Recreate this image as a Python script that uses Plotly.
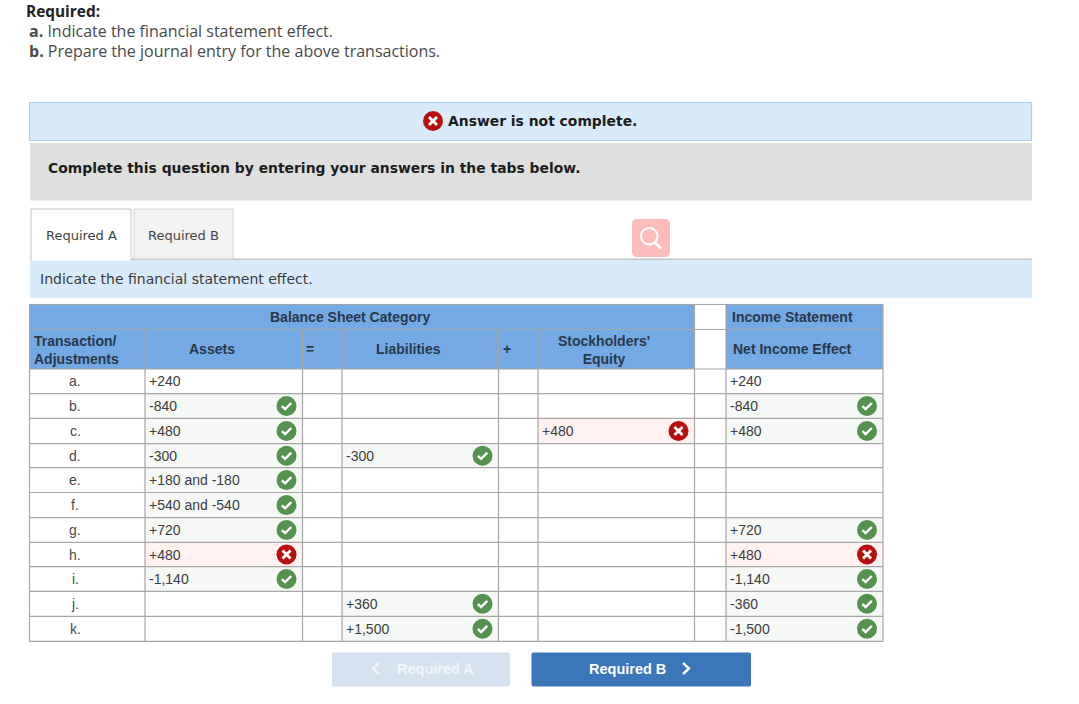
"""Gradebook style answer table, rebuilt on a pixel sized Plotly canvas."""

import plotly.graph_objects as go

# ---------------------------------------------------------------------------
# Data
# ---------------------------------------------------------------------------
transactions = ["a.", "b.", "c.", "d.", "e.", "f.", "g.", "h.", "i.", "j.", "k."]
assets = ["+240", "-840", "+480", "-300", "+180 and -180", "+540 and -540",
          "+720", "+480", "-1,140", "", ""]
assets_marks = ["", "ok", "ok", "ok", "ok", "ok", "ok", "bad", "ok", "", ""]
liabilities = ["", "", "", "-300", "", "", "", "", "", "+360", "+1,500"]
liabilities_marks = ["", "", "", "ok", "", "", "", "", "", "ok", "ok"]
equity = ["", "", "+480", "", "", "", "", "", "", "", ""]
equity_marks = ["", "", "bad", "", "", "", "", "", "", "", ""]
net_income = ["+240", "-840", "+480", "", "", "", "+720", "+480", "-1,140", "-360", "-1,500"]
net_income_marks = ["", "ok", "ok", "", "", "", "ok", "bad", "ok", "ok", "ok"]

# ---------------------------------------------------------------------------
# Layout constants (pixels)
# ---------------------------------------------------------------------------
COL_X = [29.5, 145, 302.5, 342, 498.5, 538, 694.5, 726, 883]
ROW_Y = [369, 393.7, 418.3, 443.7, 467.7, 492.5, 517.7, 542.3, 566.7, 591.3, 616.3, 641.3]
HEAD_Y = [304.5, 329.5, 369]

BLUE = "#74a9e4"
PALE_BLUE = "#d9ebfa"
GRID = "#a6a6a6"
HEAD_INK = "#27384a"
CELL_INK = "#3c3c3c"
GREEN = "#55924f"
RED = "#b70f0f"
TINT = {"ok": "#f5f8f5", "bad": "#fff2f1"}

SANS = "Liberation Sans"
BODY = "Open Sans"
WIDE = "DejaVu Sans"

shapes = []
notes = []


def rect(x0, y0, x1, y1, fill, line=None, width=1):
    shapes.append(dict(
        type="rect", x0=x0, y0=y0, x1=x1, y1=y1, fillcolor=fill,
        line=dict(color=line or fill, width=width if line else 0), layer="below",
    ))


def round_rect(x0, y0, x1, y1, r, fill):
    path = (
        f"M {x0 + r} {y0} L {x1 - r} {y0} Q {x1} {y0} {x1} {y0 + r} "
        f"L {x1} {y1 - r} Q {x1} {y1} {x1 - r} {y1} L {x0 + r} {y1} "
        f"Q {x0} {y1} {x0} {y1 - r} L {x0} {y0 + r} Q {x0} {y0} {x0 + r} {y0} Z"
    )
    shapes.append(dict(type="path", path=path, fillcolor=fill, line=dict(width=0), layer="below"))


def stroke(points, color="white", width=2.4):
    path = "M " + " L ".join(f"{x} {y}" for x, y in points)
    shapes.append(dict(type="path", path=path, line=dict(color=color, width=width), layer="above"))


def label(x, y, text, size, color=CELL_INK, family=SANS, anchor="left", bold=False):
    notes.append(dict(
        x=x, y=y, text=f"<b>{text}</b>" if bold else text, showarrow=False,
        xanchor=anchor, yanchor="middle", align="center" if anchor == "center" else "left",
        borderpad=0, borderwidth=0,
        font=dict(family=family, size=size, color=color),
    ))


# ---------------------------------------------------------------------------
# Page furniture above the table
# ---------------------------------------------------------------------------
label(26, 11.5, "Required:", 15.4, "#222222", BODY, bold=True)
label(29, 31, "<b>a.</b> Indicate the financial statement effect.", 16, "#4a4a4a", BODY)
label(29, 51, "<b>b.</b> Prepare the journal entry for the above transactions.", 16, "#4a4a4a", BODY)

rect(29.5, 102.5, 1031.5, 140.5, PALE_BLUE, "#a9cdec", 1.2)
label(447.5, 121, "Answer is not complete.", 13.9, "#1c1c1c", WIDE, bold=True)
rect(30, 143, 1032, 200.5, "#dfdfdf")
label(48, 167.5, "Complete this question by entering your answers in the tabs below.", 13.9,
      "#1c1c1c", WIDE, bold=True)

rect(30, 258.5, 1032, 260, "#c4c4c4")
rect(134, 209, 233, 259, "#f2f2f2", "#d4d4d4", 1)
rect(31, 209, 131, 261, "white", "#c4c4c4", 1)
label(81, 235, "Required A", 13, "#444444", WIDE, "center")
label(183.5, 235, "Required B", 13, "#444444", WIDE, "center")
rect(30, 260, 1032, 298, PALE_BLUE)
rect(32, 257, 130.5, 260.5, "white")
label(39.5, 279, "Indicate the financial statement effect.", 14, "#3a3a3a", WIDE)

round_rect(632, 219, 670, 257, 5, "#fdbcbc")
shapes.append(dict(type="circle", x0=641, y0=228, x1=657.5, y1=244.5, fillcolor="rgba(0,0,0,0)",
                   line=dict(color="white", width=2), layer="above"))
stroke([(655, 242.5), (661, 248.5)], width=2.6)

# ---------------------------------------------------------------------------
# Table
# ---------------------------------------------------------------------------
rect(COL_X[0], HEAD_Y[0], COL_X[6], HEAD_Y[2], BLUE)
rect(COL_X[7], HEAD_Y[0], COL_X[8], HEAD_Y[2], BLUE)

columns = [
    (assets, assets_marks, 1),
    (liabilities, liabilities_marks, 3),
    (equity, equity_marks, 5),
    (net_income, net_income_marks, 7),
]

ok_x, ok_y, bad_x, bad_y = [], [], [], []
for values, marks, col in columns:
    left, right = COL_X[col], COL_X[col + 1]
    for row, (value, mark) in enumerate(zip(values, marks)):
        top, bottom = ROW_Y[row], ROW_Y[row + 1]
        mid = (top + bottom) / 2
        if mark:
            rect(left, top, right, bottom, TINT[mark])
            cx = right - 16
            if mark == "ok":
                ok_x.append(cx)
                ok_y.append(mid)
                stroke([(cx - 4.6, mid + 0.2), (cx - 1.4, mid + 3.2), (cx + 4.8, mid - 3)])
            else:
                bad_x.append(cx)
                bad_y.append(mid)
                stroke([(cx - 4, mid - 4), (cx + 4, mid + 4)], width=2.8)
                stroke([(cx - 4, mid + 4), (cx + 4, mid - 4)], width=2.8)
        if value:
            label(left + 3.8, mid, value, 14, CELL_INK)

for row, name in enumerate(transactions):
    label((COL_X[0] + COL_X[1]) / 2 - 12, (ROW_Y[row] + ROW_Y[row + 1]) / 2, name, 14,
          "#4a4a4a", anchor="center")

for y in ROW_Y + HEAD_Y[:2]:
    x1 = COL_X[8]
    shapes.append(dict(type="line", x0=COL_X[0], x1=x1, y0=y, y1=y, line=dict(color=GRID, width=1.2),
                       layer="below"))
for i, x in enumerate(COL_X):
    y0 = HEAD_Y[1] if 0 < i < 6 else HEAD_Y[0]
    shapes.append(dict(type="line", x0=x, x1=x, y0=y0, y1=ROW_Y[-1], line=dict(color=GRID, width=1.2),
                       layer="below"))

label(350, 317, "Balance Sheet Category", 14, HEAD_INK, anchor="center", bold=True)
label(792.5, 317, "Income Statement", 14, HEAD_INK, anchor="center", bold=True)
label(33.5, 349.5, "Transaction/<br>Adjustments", 14, HEAD_INK, bold=True)
label(212, 349, "Assets", 14, HEAD_INK, anchor="center", bold=True)
label(306, 349, "=", 14, HEAD_INK, bold=True)
label(408, 349, "Liabilities", 14, HEAD_INK, anchor="center", bold=True)
label(503, 349, "+", 14, HEAD_INK, bold=True)
label(604, 349.5, "Stockholders'<br>Equity", 14, HEAD_INK, anchor="center", bold=True)
label(792, 349, "Net Income Effect", 14, HEAD_INK, anchor="center", bold=True)

# ---------------------------------------------------------------------------
# Buttons
# ---------------------------------------------------------------------------
round_rect(332, 652.5, 510, 686.5, 2, "#d6e2f0")
stroke([(379, 663), (373, 668.5), (379, 674)], color="#f1f5fa", width=2.4)
label(435, 668.5, "Required A", 14.5, "#f1f5fa", anchor="center", bold=True)
round_rect(531.5, 652.5, 751, 686.5, 2, "#3b76b9")
stroke([(683, 663), (689, 668.5), (683, 674)], width=2.4)
label(627, 668.5, "Required B", 14.5, "white", anchor="center", bold=True)

# ---------------------------------------------------------------------------
# Figure
# ---------------------------------------------------------------------------
fig = go.Figure()
fig.add_trace(go.Scatter(x=ok_x, y=ok_y, mode="markers",
                         marker=dict(size=20, color=GREEN), hoverinfo="skip"))
fig.add_trace(go.Scatter(x=bad_x + [433], y=bad_y + [121], mode="markers",
                         marker=dict(size=20, color=RED), hoverinfo="skip"))
stroke([(429, 117), (437, 125)], width=2.8)
stroke([(429, 125), (437, 117)], width=2.8)

fig.update_layout(
    width=1079, height=704, margin=dict(l=0, r=0, t=0, b=0),
    paper_bgcolor="white", plot_bgcolor="white", showlegend=False,
    xaxis=dict(range=[0, 1079], visible=False, fixedrange=True),
    yaxis=dict(range=[704, 0], visible=False, fixedrange=True),
    shapes=shapes, annotations=notes,
)
fig.write_html(
    "out.html",
    config={"displayModeBar": False},
    post_script="document.body.style.margin='0';document.body.style.overflow='hidden';",
)
